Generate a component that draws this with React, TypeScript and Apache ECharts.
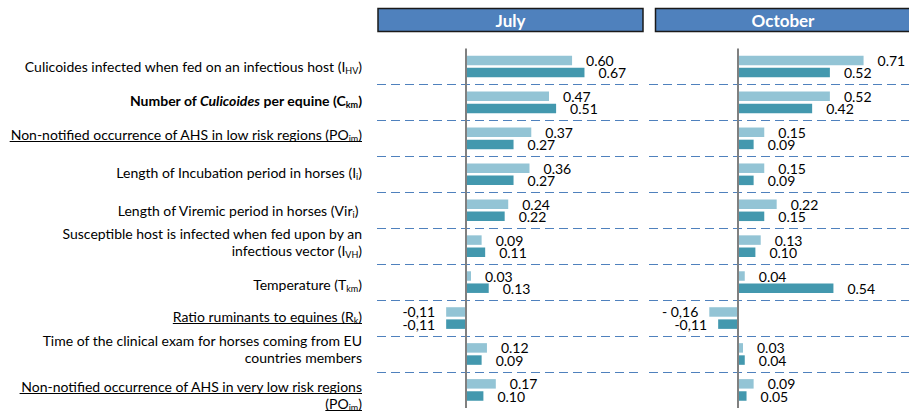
import React, { useEffect, useRef } from 'react';
import * as echarts from 'echarts';

const months = ['July', 'October'];

const categoryLabels = [
  '{n|Culicoides infected when fed on an infectious host (I}{s|HV}{n|)}',
  '{b|Number of }{bi|Culicoides}{b| per equine (C}{bs|km}{b|)}',
  '{n|Non-notified occurrence of AHS in low risk regions (PO}{s|im}{n|)}',
  '{n|Length of Incubation period in horses (I}{s|i}{n|)}',
  '{n|Length of Viremic period in horses (Vir}{s|i}{n|) }',
  '{n|Susceptible host is infected when fed upon by an}\n{n|infectious vector (I}{s|VH}{n|)}',
  '{n|Temperature (T}{s|km}{n|)}',
  '{n|Ratio ruminants to equines (R}{s|k}{n|)}',
  '{n|Time of the clinical exam for horses coming from EU}\n{n|countries members}',
  '{n|Non-notified occurrence of AHS in very low risk regions}\n{n|(PO}{s|im}{n|)}',
];
const underlinedRows = [2, 7, 9];

const julyLight = [0.6, 0.47, 0.37, 0.36, 0.24, 0.09, 0.03, -0.11, 0.12, 0.17];
const julyDark = [0.67, 0.51, 0.27, 0.27, 0.22, 0.11, 0.13, -0.11, 0.09, 0.1];
const octLight = [0.71, 0.52, 0.15, 0.15, 0.22, 0.13, 0.04, -0.16, 0.03, 0.09];
const octDark = [0.52, 0.42, 0.09, 0.09, 0.15, 0.1, 0.54, -0.11, 0.04, 0.05];

const negLabelOverrides: Record<string, string> = { 'octLight-7': '- 0,16' };

// small vertical nudges of the row labels (px, + = down)
const labelShift = [0, -2, -4, -2, 0, -4, 2, -2, -5, 5];

const LIGHT = '#93C4D5';
const DARK = '#4398AE';
const FONT = 'Lato';
const LABEL_SIZE = 14;
const SUB_SIZE = 9;
const LINE_H = 17;

const fmtPos = (v: number) => v.toFixed(2);
const fmtNeg = (v: number) => '-' + Math.abs(v).toFixed(2).replace('.', ',');

function makeSeries(name: string, vals: number[], color: string, idx: number, withZero: boolean) {
  const s: any = {
    type: 'bar',
    name,
    xAxisIndex: idx,
    yAxisIndex: idx,
    barWidth: 9.5,
    barGap: '28%',
    itemStyle: { color },
    label: {
      show: true,
      position: 'right',
      distance: 14,
      fontFamily: FONT,
      fontSize: 14,
      color: '#000',
      formatter: (p: any) => fmtPos(p.value),
    },
    data: vals.map((v, i) => {
      if (v >= 0) return v;
      const key = name + '-' + i;
      const txt = negLabelOverrides[key] || fmtNeg(v);
      return { value: v, label: { position: 'left', distance: 11, formatter: txt } };
    }),
  };
  if (withZero) {
    s.markLine = {
      silent: true,
      symbol: 'none',
      label: { show: false },
      lineStyle: { color: '#808080', width: 2, type: 'solid' },
      data: [{ xAxis: 0 }],
      z: 10,
    };
  }
  return s;
}

const styleDefs: Record<string, any> = {
  n: { fontFamily: FONT, fontSize: LABEL_SIZE, lineHeight: LINE_H, color: '#000' },
  b: { fontFamily: FONT, fontSize: LABEL_SIZE, lineHeight: LINE_H, color: '#000', fontWeight: 'bold' },
  bi: { fontFamily: FONT, fontSize: LABEL_SIZE, lineHeight: LINE_H, color: '#000', fontWeight: 'bold', fontStyle: 'italic' },
  s: { fontFamily: FONT, fontSize: SUB_SIZE, lineHeight: 7, color: '#000', verticalAlign: 'bottom' },
  bs: { fontFamily: FONT, fontSize: SUB_SIZE, lineHeight: 7, color: '#000', fontWeight: 'bold', verticalAlign: 'bottom' },
};

function headerGraphics() {
  return [
    {
      type: 'rect',
      shape: { x: 378, y: 8.5, width: 265, height: 23 },
      style: { fill: '#4F81BD', stroke: '#1a1a1a', lineWidth: 1.5 },
    },
    {
      type: 'text',
      x: 510.5,
      y: 20.5,
      style: { text: months[0], fill: '#fff', fontFamily: FONT, fontWeight: 'bold', fontSize: 17, align: 'center', verticalAlign: 'middle' },
    },
    {
      type: 'rect',
      shape: { x: 655.5, y: 8.5, width: 260, height: 23 },
      style: { fill: '#4F81BD', stroke: '#1a1a1a', lineWidth: 1.5 },
    },
    {
      type: 'text',
      x: 783,
      y: 20.5,
      style: { text: months[1], fill: '#fff', fontFamily: FONT, fontWeight: 'bold', fontSize: 17, align: 'center', verticalAlign: 'middle' },
    },
  ];
}

export default function App() {
  const ref = useRef<HTMLDivElement>(null);
  useEffect(() => {
    if (!ref.current) return;
    const chart = echarts.init(ref.current, undefined, { renderer: 'svg' });
    const gridTop = 48.5;
    const gridH = 359.4;
    const labelMargin = 15;
    const splitLine = {
      show: true,
      interval: 0,
      showMinLine: false,
      showMaxLine: false,
      lineStyle: { color: '#4F81BD', type: [9, 5], width: 1.2 },
    };
    const catData = categoryLabels.map((c, i) => {
      const d = labelShift[i];
      const pad = d < 0 ? [0, 0, -2 * d, 0] : [2 * d, 0, 0, 0];
      return { value: c, textStyle: { padding: pad } };
    });
    const option: any = {
      animation: false,
      grid: [
        { left: 377, width: 266, top: gridTop, height: gridH, outerBoundsMode: 'none' },
        { left: 649, width: 266, top: gridTop, height: gridH, outerBoundsMode: 'none' },
      ],
      xAxis: [
        { type: 'value', gridIndex: 0, min: -0.5, max: 1.0, show: false },
        { type: 'value', gridIndex: 1, min: -0.5, max: 1.0, show: false },
      ],
      yAxis: [
        {
          type: 'category',
          gridIndex: 0,
          data: catData,
          inverse: true,
          axisLine: { show: false },
          axisTick: { show: false },
          axisLabel: { interval: 0, margin: labelMargin, rich: styleDefs, align: 'right' },
          splitLine,
        },
        {
          type: 'category',
          gridIndex: 1,
          data: catData,
          inverse: true,
          axisLine: { show: false },
          axisTick: { show: false },
          axisLabel: { show: false },
          splitLine,
        },
      ],
      series: [
        makeSeries('julyLight', julyLight, LIGHT, 0, true),
        makeSeries('julyDark', julyDark, DARK, 0, false),
        makeSeries('octLight', octLight, LIGHT, 1, true),
        makeSeries('octDark', octDark, DARK, 1, false),
      ],
      graphic: headerGraphics(),
    };
    chart.setOption(option);

    // underlines for the underlined row labels, measured from the text itself
    const canvas = document.createElement('canvas');
    const ctx = canvas.getContext('2d');
    const underlines: any[] = [];
    if (ctx) {
      const measure = (style: string, text: string) => {
        const st = styleDefs[style] || styleDefs.n;
        ctx.font = `${st.fontStyle || 'normal'} ${st.fontWeight || 'normal'} ${st.fontSize}px ${st.fontFamily}`;
        return ctx.measureText(text).width;
      };
      const gridLeftPx = chart.convertToPixel({ xAxisIndex: 0 }, -0.5) as number;
      const rightX = gridLeftPx - labelMargin;
      underlinedRows.forEach((ri) => {
        const center = (chart.convertToPixel({ yAxisIndex: 0 }, ri) as number) + labelShift[ri];
        const lines = categoryLabels[ri].split('\n');
        lines.forEach((line, li) => {
          let w = 0;
          const re = /\{(\w+)\|([^}]*)\}/g;
          let m: RegExpExecArray | null;
          while ((m = re.exec(line))) w += measure(m[1], m[2]);
          const lineCenter = center + (li - (lines.length - 1) / 2) * LINE_H;
          const y = Math.round(lineCenter + 7) + 0.5;
          underlines.push({
            type: 'line',
            shape: { x1: rightX - w, y1: y, x2: rightX, y2: y },
            style: { stroke: '#000', lineWidth: 1 },
            silent: true,
          });
        });
      });
    }
    chart.setOption({ graphic: [...headerGraphics(), ...underlines] });
    return () => chart.dispose();
  }, []);
  return (
    <div
      ref={ref}
      style={{ position: 'absolute', left: 0, top: 0, width: 909, height: 414, background: '#fff' }}
    />
  );
}
